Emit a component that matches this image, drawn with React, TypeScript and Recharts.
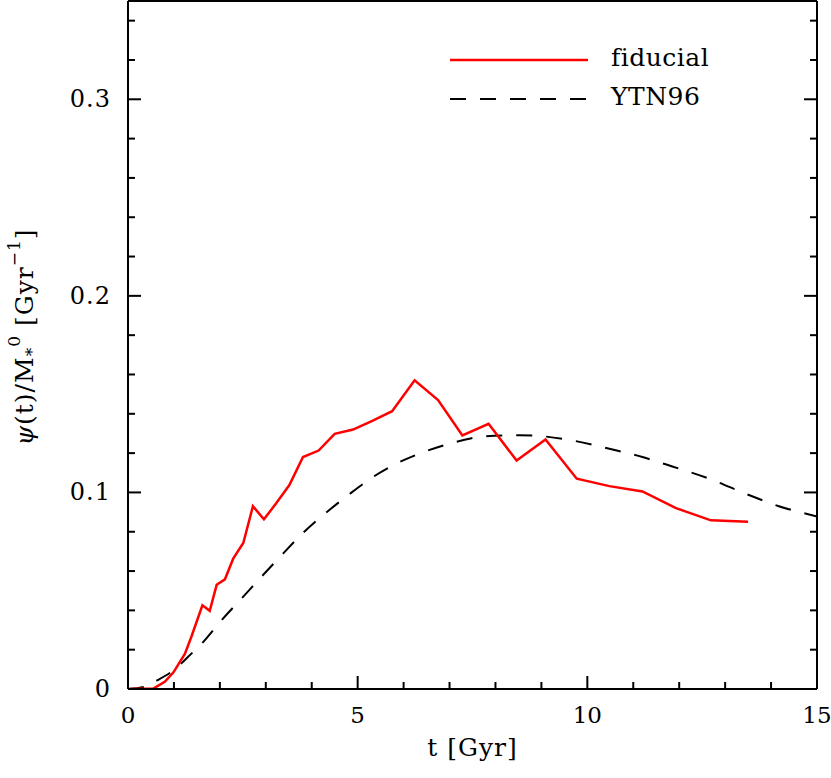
import React from 'react';
import { LineChart, Line, XAxis, YAxis } from 'recharts';

// fiducial model (red solid)
const fiducialT = [0, 0.55, 0.8, 0.99, 1.24, 1.38, 1.62, 1.78, 1.93, 2.11, 2.29, 2.51, 2.72, 2.96, 3.23, 3.51, 3.81, 4.15, 4.5, 4.9, 5.33, 5.75, 6.24, 6.75, 7.28, 7.85, 8.46, 9.09, 9.77, 10.48, 11.2, 11.93, 12.69, 13.5];
const fiducialSfr = [0, 0.0002, 0.0037, 0.0085, 0.018, 0.0266, 0.0426, 0.0398, 0.053, 0.0558, 0.0663, 0.0743, 0.093, 0.0863, 0.0946, 0.1036, 0.118, 0.1213, 0.1298, 0.132, 0.1365, 0.1413, 0.157, 0.147, 0.129, 0.1349, 0.1162, 0.1269, 0.107, 0.1032, 0.1005, 0.092, 0.0858, 0.0851];

// YTN96 (black dashed)
const ytnT = [0, 0.37, 0.62, 0.99, 1.38, 1.64, 2.0, 2.51, 2.94, 3.38, 3.81, 4.39, 4.83, 5.33, 5.9, 6.49, 7.11, 7.8, 8.52, 9.1, 9.68, 10.48, 11.2, 11.85, 12.72, 13.45, 14.17, 15];
const ytnSfr = [0, 0.0012, 0.0042, 0.0095, 0.018, 0.024, 0.034, 0.047, 0.058, 0.069, 0.0794, 0.0912, 0.0993, 0.1078, 0.1153, 0.121, 0.1255, 0.1286, 0.1291, 0.1284, 0.1264, 0.1222, 0.118, 0.1132, 0.1064, 0.0993, 0.093, 0.0878];

const xTicks = [0, 1, 2, 3, 4, 5, 6, 7, 8, 9, 10, 11, 12, 13, 14, 15];
const xLabels = [0, 5, 10, 15];
const yTicks = [0, 0.02, 0.04, 0.06, 0.08, 0.1, 0.12, 0.14, 0.16, 0.18, 0.2, 0.22, 0.24, 0.26, 0.28, 0.3, 0.32, 0.34];
const yLabels = [0, 0.1, 0.2, 0.3];

const fiducialData = fiducialT.map((t, i) => ({ t, v: fiducialSfr[i] }));
const ytnData = ytnT.map((t, i) => ({ t, v: ytnSfr[i] }));

const FONT = '"DejaVu Serif", serif';
const isLabelX = (v: number) => xLabels.some((l) => Math.abs(l - v) < 1e-9);
const isLabelY = (v: number) => yLabels.some((l) => Math.abs(l - v) < 1e-9);

const BottomTick = (props: any) => {
  const { x, y, payload } = props;
  const major = isLabelX(payload.value);
  return (
    <g>
      <line x1={x} y1={y} x2={x} y2={y - (major ? 13 : 7)} stroke="#000" strokeWidth={2} />
      {major && (
        <text x={x} y={y + 34} textAnchor="middle" fontFamily={FONT} fontSize={23} fill="#000">
          {payload.value}
        </text>
      )}
    </g>
  );
};

const TopTick = (props: any) => {
  const { x, y, payload } = props;
  const major = isLabelX(payload.value);
  return <line x1={x} y1={y} x2={x} y2={y + (major ? 13 : 7)} stroke="#000" strokeWidth={2} />;
};

const LeftTick = (props: any) => {
  const { x, y, payload } = props;
  const major = isLabelY(payload.value);
  return (
    <g>
      <line x1={x} y1={y} x2={x + (major ? 13 : 7)} y2={y} stroke="#000" strokeWidth={2} />
      {major && (
        <text x={x - 17} y={y + 8} textAnchor="end" fontFamily={FONT} fontSize={24} letterSpacing={1} fill="#000">
          {payload.value}
        </text>
      )}
    </g>
  );
};

const RightTick = (props: any) => {
  const { x, y, payload } = props;
  const major = isLabelY(payload.value);
  return <line x1={x} y1={y} x2={x - (major ? 13 : 7)} y2={y} stroke="#000" strokeWidth={2} />;
};

const YLabel = () => (
  <text
    transform="translate(33,337) rotate(-90)"
    textAnchor="middle"
    fontFamily={FONT}
    fontSize={25}
    letterSpacing={1}
    fill="#000"
  >
    <tspan fontStyle="italic">ψ</tspan>
    <tspan>(t)/M</tspan>
    <tspan fontSize={17} dy={5}>*</tspan>
    <tspan fontSize={17} dy={-18}>0</tspan>
    <tspan dy={13}> [Gyr</tspan>
    <tspan fontSize={17} dy={-13}>−1</tspan>
    <tspan dy={13}>]</tspan>
  </text>
);

const LegendBox = () => (
  <svg width={831} height={130} style={{ position: 'absolute', left: 0, top: 0, pointerEvents: 'none' }}>
    <line x1={450} y1={60} x2={588} y2={60} stroke="#ff0000" strokeWidth={2.5} />
    <text x={611} y={66} fontFamily={FONT} fontSize={25} letterSpacing={0.5} fill="#000">fiducial</text>
    <line x1={450} y1={99} x2={588} y2={99} stroke="#000" strokeWidth={2} strokeDasharray="16 14" />
    <text x={611} y={105} fontFamily={FONT} fontSize={25} letterSpacing={0.5} fill="#000">YTN96</text>
  </svg>
);

export default function App() {
  return (
    <div style={{ position: 'relative', width: 831, height: 778, background: '#fff' }}>
      <style>{'body{margin:0}'}</style>
      <LineChart width={831} height={778} margin={{ top: 0, right: 13, bottom: 0, left: 0 }}>
        <XAxis
          xAxisId="b"
          type="number"
          dataKey="t"
          domain={[0, 15]}
          ticks={xTicks}
          interval={0}
          height={89}
          tickSize={0}
          tickMargin={0}
          tickLine={false}
          axisLine={{ stroke: '#000', strokeWidth: 2 }}
          tick={<BottomTick />}
          allowDataOverflow
          label={{ value: 't [Gyr]', position: 'insideBottom', offset: 22, fontFamily: FONT, fontSize: 25, letterSpacing: 1, fill: '#000' }}
        />
        <XAxis
          xAxisId="t"
          orientation="top"
          type="number"
          domain={[0, 15]}
          ticks={xTicks}
          interval={0}
          height={1}
          tickSize={0}
          tickMargin={0}
          tickLine={false}
          axisLine={{ stroke: '#000', strokeWidth: 2 }}
          tick={<TopTick />}
          allowDataOverflow
        />
        <YAxis
          yAxisId="l"
          type="number"
          domain={[0, 0.35]}
          ticks={yTicks}
          interval={0}
          width={128}
          tickSize={0}
          tickMargin={0}
          tickLine={false}
          axisLine={{ stroke: '#000', strokeWidth: 2 }}
          tick={<LeftTick />}
          allowDataOverflow
          label={<YLabel />}
        />
        <YAxis
          yAxisId="r"
          orientation="right"
          type="number"
          domain={[0, 0.35]}
          ticks={yTicks}
          interval={0}
          width={1}
          tickSize={0}
          tickMargin={0}
          tickLine={false}
          axisLine={{ stroke: '#000', strokeWidth: 2 }}
          tick={<RightTick />}
          allowDataOverflow
        />
        <Line
          xAxisId="b"
          yAxisId="l"
          data={ytnData}
          dataKey="v"
          type="monotone"
          stroke="#000"
          strokeWidth={2}
          strokeDasharray="16 14"
          dot={false}
          isAnimationActive={false}
        />
        <Line
          xAxisId="b"
          yAxisId="l"
          data={fiducialData}
          dataKey="v"
          type="linear"
          stroke="#ff0000"
          strokeWidth={2.5}
          dot={false}
          isAnimationActive={false}
        />
      </LineChart>
      <LegendBox />
    </div>
  );
}
